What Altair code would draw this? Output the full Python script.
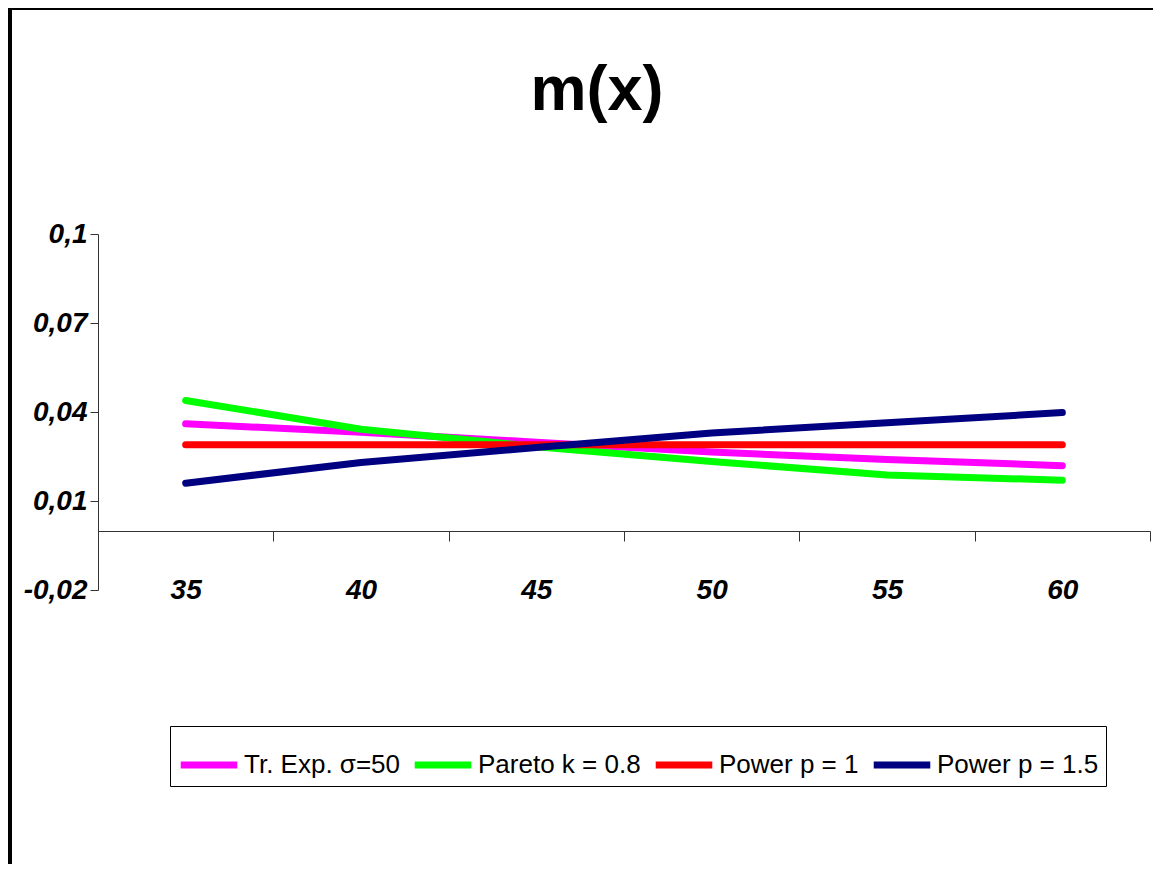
import altair as alt
import pandas as pd

x_values = [35, 40, 45, 50, 55, 60]
tr_exp = [0.0360, 0.0332, 0.0298, 0.0265, 0.0240, 0.0219]
pareto = [0.0439, 0.0342, 0.0283, 0.0233, 0.0188, 0.0170]
power_1 = [0.0290, 0.0290, 0.0290, 0.0290, 0.0290, 0.0290]
power_15 = [0.0160, 0.0230, 0.0280, 0.0329, 0.0364, 0.0398]

series_names = ["Tr. Exp. σ=50", "Pareto k = 0.8", "Power p = 1", "Power p = 1.5"]
series_colors = ["#FF00FF", "#00FF00", "#FF0000", "#000080"]
y_ticks = [-0.02, 0.01, 0.04, 0.07, 0.1]
x_boundaries = [32.5, 37.5, 42.5, 47.5, 52.5, 57.5, 62.5]
title_text = "m(x)"

rows = []
for name, vals in zip(series_names, [tr_exp, pareto, power_1, power_15]):
    for xv, yv in zip(x_values, vals):
        rows.append({"x": xv, "m": yv, "series": name})
df = pd.DataFrame(rows)

FONT = "Liberation Sans, Arial"

x_scale = alt.Scale(domain=[32.5, 62.5], nice=False, zero=False)
y_scale = alt.Scale(domain=[-0.02, 0.1], nice=False, zero=False)

label_expr = ("datum.value < 0 ? '-' + replace(format(-datum.value, '.2~f'), '.', ',') "
              ": replace(format(datum.value, '.2~f'), '.', ',')")

lines = alt.Chart(df).mark_line(strokeWidth=7, strokeCap="round", strokeJoin="round").encode(
    x=alt.X("x:Q", scale=x_scale,
            axis=alt.Axis(values=x_values, orient="bottom", title=None, domain=False,
                          ticks=False, grid=False, labelFont=FONT, labelFontSize=28,
                          labelFontWeight="bold", labelFontStyle="italic",
                          labelColor="black", labelBaseline="middle", labelPadding=0,
                          labelFlush=False)),
    y=alt.Y("m:Q", scale=y_scale,
            axis=alt.Axis(values=y_ticks, title=None, grid=False, labelExpr=label_expr,
                          domainColor="#333333", domainWidth=1, tickColor="#333333",
                          tickSize=8, labelFont=FONT, labelFontSize=28,
                          labelFontWeight="bold", labelFontStyle="italic",
                          labelColor="black", labelPadding=3, labelFlush=False)),
    color=alt.Color("series:N",
                    scale=alt.Scale(domain=series_names, range=series_colors),
                    sort=series_names,
                    legend=alt.Legend(title=None, orient="none", legendX=72, legendY=492,
                                      direction="horizontal", columns=4,
                                      symbolType="stroke", symbolStrokeWidth=7,
                                      symbolSize=3200, labelFont=FONT, labelFontSize=26,
                                      labelColor="black", labelLimit=400, labelOffset=3,
                                      columnPadding=0, padding=7, strokeColor="black",
                                      fillColor="white", symbolOpacity=1)),
    order=alt.Order("x:Q"),
)

# axis line with category separator ticks, crossing the y axis at 0
x_axis_line = alt.Chart(pd.DataFrame({"x": x_boundaries})).mark_point(opacity=0).encode(
    x=alt.X("x:Q", scale=x_scale,
            axis=alt.Axis(values=x_boundaries, orient="bottom", offset=-59, labels=False,
                          title=None, grid=False, domainColor="#333333", domainWidth=1,
                          tickColor="#333333", tickSize=10)),
)

frame = alt.Chart(pd.DataFrame({"a": [0]})).mark_rect(
    fill="transparent", stroke="black", strokeWidth=4
).encode(
    x=alt.value(-88), y=alt.value(-226), x2=alt.value(3000), y2=alt.value(3000)
)

title = alt.Chart(pd.DataFrame({"t": [title_text]})).mark_text(
    font=FONT, fontSize=63, fontWeight="bold", color="black",
    align="center", baseline="alphabetic"
).encode(
    text="t:N", x=alt.value(499), y=alt.value(-124)
)

chart = alt.layer(frame, title, x_axis_line, lines).resolve_axis(x="independent").properties(
    width=1052,
    height=356,
    autosize=alt.AutoSizeParams(type="none"),
    padding={"left": 90, "top": 226, "right": 3, "bottom": 274},
).configure(background="white").configure_view(stroke="transparent", strokeWidth=0)

chart.save("out.html", embed_options={"renderer": "svg", "actions": False})
